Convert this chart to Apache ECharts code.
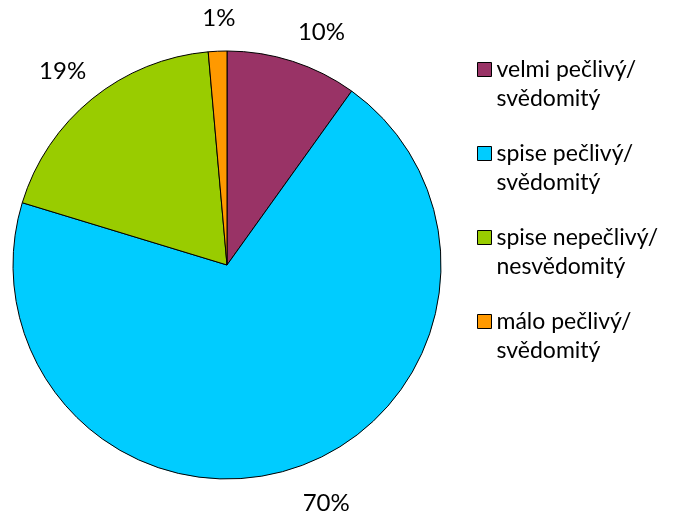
<!DOCTYPE html>
<html>
<head>
<meta charset="utf-8">
<script src="https://cdn.jsdelivr.net/npm/echarts@6/dist/echarts.min.js"></script>
<style>
  html, body { margin: 0; padding: 0; background: #fff; }
  #chart { width: 677px; height: 516px; }
</style>
</head>
<body>
<div id="chart"></div>
<script>
// kategorie a hodnoty (podíl v %)
const categories = ['velmi pečlivý/\nsvědomitý', 'spise pečlivý/\nsvědomitý', 'spise nepečlivý/\nnesvědomitý', 'málo pečlivý/\nsvědomitý'];
const values = [9.9, 69.8, 18.9, 1.4];
const colors = ['#993366', '#00CCFF', '#99CC00', '#FF9900'];
// jemné posunutí popisků (jako v Excelu)
const labelNudge = [[17, 8], [18, -1], [-5, 3], [3, 6]];

const font = 'Lato, "Open Sans", sans-serif';
const center = [227, 265];

const pieData = categories.map((name, i) => ({
    name: name,
    value: values[i],
    itemStyle: { color: colors[i] }
}));

// druhý (neviditelný) prstenec jen kvůli popiskům procent
const labelData = categories.map((name, i) => ({
    name: name,
    value: values[i],
    label: { offset: labelNudge[i] }
}));

const chart = echarts.init(document.getElementById('chart'));
chart.setOption({
    animation: false,
    legend: {
        orient: 'vertical',
        left: 472,
        top: 21,
        itemWidth: 14,
        itemHeight: 14,
        itemGap: -3,
        icon: 'rect',
        data: categories,
        itemStyle: { borderColor: '#000', borderWidth: 1 },
        formatter: name => '\n' + name,
        textStyle: { fontFamily: font, fontSize: 23, color: '#000', lineHeight: 29 },
        selectedMode: false
    },
    series: [
        {
            type: 'pie',
            center: center,
            radius: 214,
            startAngle: 90,
            clockwise: true,
            data: pieData,
            label: { show: false },
            labelLine: { show: false },
            itemStyle: { borderColor: '#000', borderWidth: 1 },
            emphasis: { disabled: true }
        },
        {
            type: 'pie',
            center: center,
            radius: [236, 264],
            startAngle: 90,
            clockwise: true,
            silent: true,
            data: labelData,
            itemStyle: { color: 'rgba(0,0,0,0)', borderWidth: 0 },
            label: {
                show: true,
                position: 'inside',
                fontFamily: font,
                fontSize: 24,
                color: '#000',
                formatter: p => Math.round(p.percent) + '%'
            },
            labelLine: { show: false },
            emphasis: { disabled: true }
        }
    ]
});
</script>
</body>
</html>
